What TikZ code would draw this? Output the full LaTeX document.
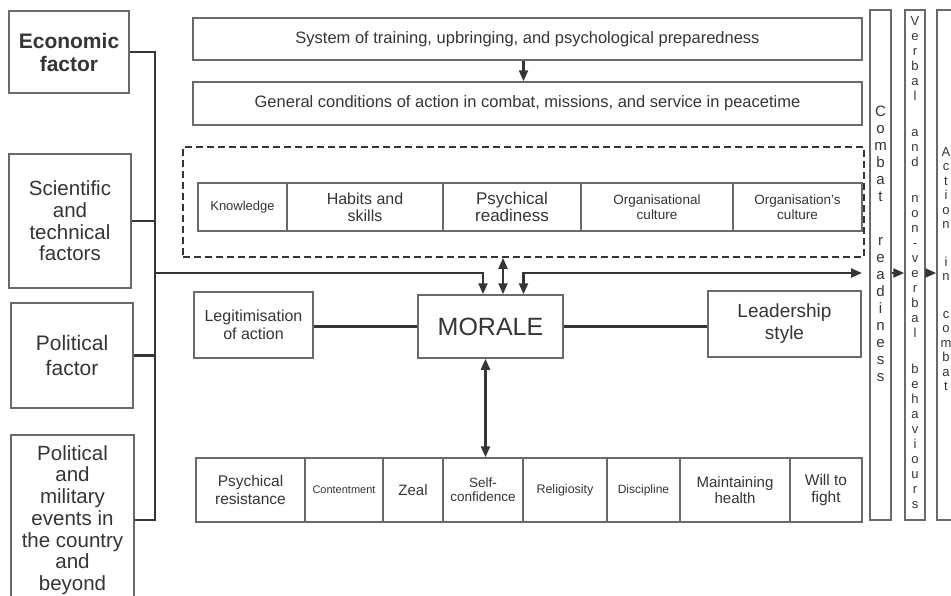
\documentclass[tikz,border=0pt]{standalone}
\usepackage{fontspec}
\setmainfont{Liberation Sans}
\usetikzlibrary{arrows.meta}
\definecolor{bord}{HTML}{6A6A6A}
\definecolor{lin}{HTML}{353535}
\definecolor{txt}{HTML}{353535}
\newcommand{\fsz}[2]{\fontsize{#1}{#2}\selectfont}
\begin{document}
\begin{tikzpicture}[x=1pt,y=-1pt,
  bx/.style={draw=bord, line width=1.5pt, inner sep=0pt, align=center, text=txt},
  col/.style={draw=bord, line width=1.5pt, inner sep=0pt, minimum height=510pt},
  vtext/.style={text=txt, align=center, inner sep=0pt},
  conn/.style={draw=lin, line width=2.2pt},
  tip/.style={-{Triangle[length=11pt,width=9pt]}},
  tips/.style={{Triangle[length=11pt,width=9pt]}-{Triangle[length=11pt,width=9pt]}},
  dashbox/.style={draw=lin, line width=1.7pt, dash pattern=on 7pt off 4pt}]
\useasboundingbox (0,0) rectangle (951,595);
\fill[white] (0,0) rectangle (951,595);
\clip (0,0) rectangle (951,595);

% left factor boxes
\node[bx, minimum width=120pt, minimum height=82pt, font=\bfseries\fsz{21}{23}] (econ) at (69,52) {Economic\\factor};
\node[bx, minimum width=122pt, minimum height=134pt, font=\fsz{20.5}{21.7}] (sci) at (70,221) {Scientific\\and\\technical\\factors};
\node[bx, minimum width=122pt, minimum height=105pt, font=\fsz{21}{25}] (pol) at (72,355.5) {Political\\factor};
\node[bx, minimum width=123pt, minimum height=170pt, font=\fsz{20.5}{21.7}] (events) at (72.5,520) {Political\\and\\military\\events in\\the country\\and\\beyond};

% top boxes
\node[bx, minimum width=669pt, minimum height=42pt, font=\fsz{16.5}{19}] (sys) at (527.5,39) {System of training, upbringing, and psychological preparedness};
\node[bx, minimum width=669pt, minimum height=43pt, font=\fsz{16.5}{19}] (gen) at (527.5,103.5) {General conditions of action in combat, missions, and service in peacetime};

% dashed group
\node[dashbox, minimum width=681pt, minimum height=110pt, inner sep=0pt] (dash) at (523.5,202) {};
\node[bx, minimum width=89pt, minimum height=48pt, font=\fsz{13}{15}] (know) at (242.5,207) {Knowledge};
\node[bx, minimum width=156pt, minimum height=48pt, font=\fsz{16}{17}] (habits) at (365,207) {Habits and\\skills};
\node[bx, minimum width=138pt, minimum height=48pt, font=\fsz{17}{17}] (psyready) at (512,207) {Psychical\\readiness};
\node[bx, minimum width=152pt, minimum height=48pt, font=\fsz{13.5}{15}] (orgcult) at (657,207) {Organisational\\culture};
\node[bx, minimum width=129pt, minimum height=48pt, font=\fsz{13.5}{15}] (orgscult) at (797.5,207) {Organisation's\\culture};

% middle row
\node[bx, minimum width=145pt, minimum height=63pt, font=\fsz{25}{27}] (morale) at (490.5,326.5) {MORALE};
\node[bx, minimum width=119pt, minimum height=66pt, font=\fsz{16}{18}] (legit) at (253.5,325) {Legitimisation\\of action};
\node[bx, minimum width=153pt, minimum height=66pt, font=\fsz{19}{22}] (lead) at (784.5,324) {Leadership\\style};

% bottom row
\node[bx, minimum width=109pt, minimum height=64pt, font=\fsz{15.5}{18}] (psyres) at (250.5,490) {Psychical\\resistance};
\node[bx, minimum width=78pt, minimum height=64pt, font=\fsz{11}{13}] (cont) at (344,490) {Contentment};
\node[bx, minimum width=60pt, minimum height=64pt, font=\fsz{15}{17}] (zeal) at (413,490) {Zeal};
\node[bx, minimum width=80pt, minimum height=64pt, font=\fsz{13.5}{14}] (selfc) at (483,490) {Self-\\confidence};
\node[bx, minimum width=84pt, minimum height=64pt, font=\fsz{12.5}{14}] (relig) at (565,490) {Religiosity};
\node[bx, minimum width=73pt, minimum height=64pt, font=\fsz{12}{14}] (disc) at (643.5,490) {Discipline};
\node[bx, minimum width=110pt, minimum height=64pt, font=\fsz{15}{16}] (health) at (735,490) {Maintaining\\health};
\node[bx, minimum width=72pt, minimum height=64pt, font=\fsz{15.5}{17}] (will) at (826,490) {Will to\\fight};

% right columns
\node[col, minimum width=21pt] (combat) at (880.5,265) {};
\node[col, minimum width=20pt] (verbal) at (915,265) {};
\node[col, minimum width=20pt] (action) at (947,265) {};
\node[vtext, font=\fsz{15}{17}] (combattxt) at (880.5,244) {C\\o\\m\\b\\a\\t\\[27pt]r\\e\\a\\d\\i\\n\\e\\s\\s};
\node[vtext, font=\fsz{13}{15}] (verbaltxt) at (915,263) {V\\e\\r\\b\\a\\l\\[21pt]a\\n\\d\\[21pt]n\\o\\n\\-\\v\\e\\r\\b\\a\\l\\[21pt]b\\e\\h\\a\\v\\i\\o\\u\\r\\s};
\node[vtext, font=\fsz{13}{14.5}] (actiontxt) at (946,269) {A\\c\\t\\i\\o\\n\\[23pt]i\\n\\[23pt]c\\o\\m\\b\\a\\t};

% connectors
\coordinate (bus) at (155,0);
\coordinate (mainy) at (0,273);
\coordinate (outend) at (862,273);
\draw[conn] (econ.east) -- (econ.east -| bus) -- (events.east -| bus) -- (events.east);
\draw[conn] (sci.east) -- (sci.east -| bus);
\draw[conn] (pol.east) -- (pol.east -| bus);
\draw[conn, tip] (bus |- mainy) -| ([xshift=-7.5pt]morale.north);
\draw[conn, tips] ([xshift=12.5pt]morale.north |- dash.south) -- ([xshift=12.5pt]morale.north);
\draw[conn, tips] ([xshift=33pt]morale.north) |- (outend);
\draw[conn, tips] ([xshift=-5pt]morale.south) -- ([xshift=-5pt]morale.south |- selfc.north);
\draw[conn] (morale.west) -- (morale.west -| legit.east);
\draw[conn] (morale.east) -- (morale.east -| lead.west);
\draw[conn, tip] ([xshift=-4pt]sys.south) -- ([xshift=-4pt]gen.north);
\draw[conn, tip] (combat.east |- mainy) -- (verbal.west |- mainy);
\draw[conn, tip] (verbal.east |- mainy) -- (action.west |- mainy);
\end{tikzpicture}
\end{document}
